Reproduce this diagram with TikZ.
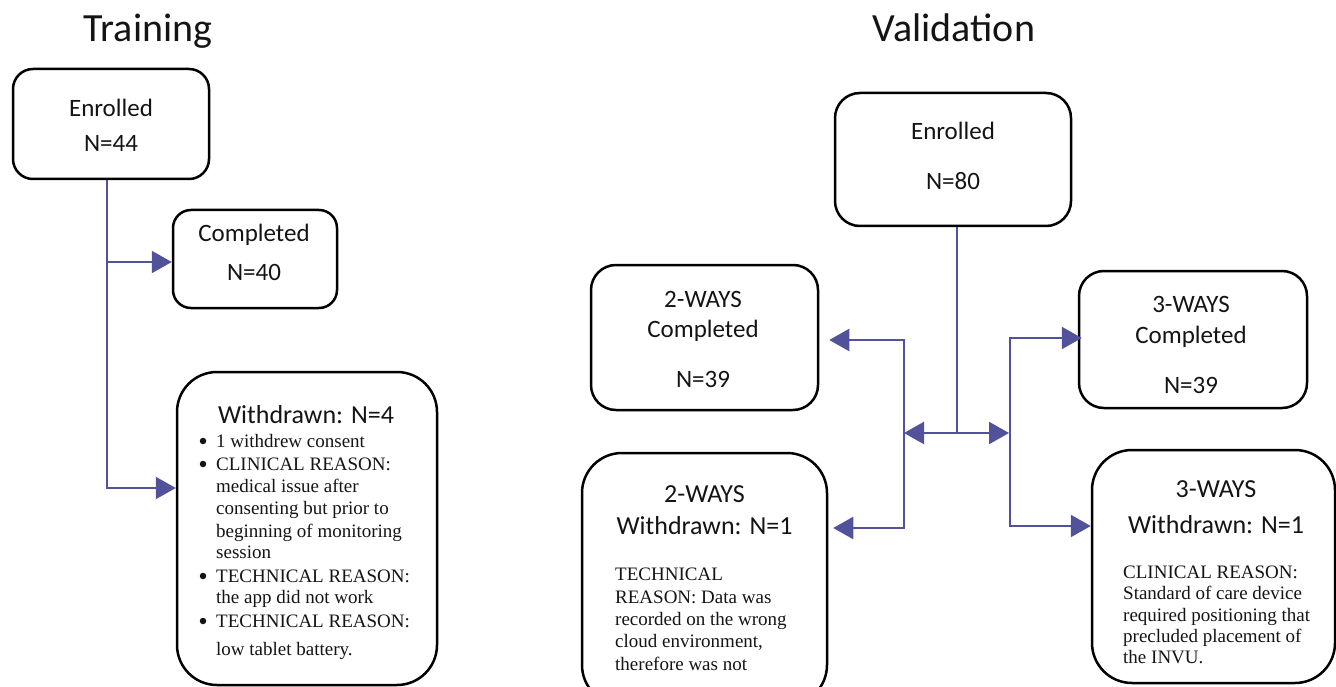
\documentclass[tikz,border=0pt]{standalone}
\usepackage{fontspec}
\setmainfont{Liberation Serif}
\newfontfamily\calib{Carlito}
\usetikzlibrary{arrows.meta}
\definecolor{flowc}{RGB}{82,82,155}
\definecolor{ink}{RGB}{20,20,20}
\begin{document}
\begin{tikzpicture}[x=1pt,y=-1pt,
  box/.style={draw=black, line width=2.5pt, inner sep=0pt},
  hd/.style={font=\calib\fontsize{25}{30}\selectfont, text=ink, anchor=base, inner sep=0pt},
  hdw/.style={font=\calib\fontsize{26}{31}\selectfont, text=ink, anchor=base, inner sep=0pt},
  ttl/.style={font=\calib\fontsize{40}{48}\selectfont, text=ink, anchor=base, inner sep=0pt},
  body/.style={font=\fontsize{19}{22.5}\selectfont, text=ink, anchor=base west, inner sep=0pt},
  bul/.style={circle, fill=ink, inner sep=0pt, minimum size=6.5pt},
  flow/.style={draw=flowc, line width=2.3pt, line join=miter},
  tip/.tip={Triangle[length=20pt,width=22pt]},
  arr/.style={flow, -tip}
]
\useasboundingbox (0,0) rectangle (1336,687);
\begin{scope}
\clip (0,0) rectangle (1336,687);

% titles
\node[ttl] (ttrain) at (148,42) {Training};
\node[ttl] (tval) at (954,42) {Validation};

% ---------- Training ----------
\node[box, rounded corners=20pt, minimum width=196pt, minimum height=110pt] (en1) at (111,124) {};
\node[hd] (en1a) at (111,117) {Enrolled};
\node[hd] (en1b) at (111,152) {N=44};

\node[box, rounded corners=18pt, minimum width=164pt, minimum height=98pt] (co1) at (255,259) {};
\node[hd] (co1a) at (254,242) {Completed};
\node[hd] (co1b) at (254,280) {N=40};

\node[box, rounded corners=40pt, minimum width=260pt, minimum height=313pt] (wd1) at (307,528.5) {};
\node[hdw] (wd1a) at (306,423) {Withdrawn: N=4};
\node[bul] (k1) at (203,441) {};
\node[bul] (k2) at (203,464) {};
\node[bul] (k3) at (203,576) {};
\node[bul] (k4) at (203,621) {};
\node[body] (l1) at (216,447) {1 withdrew consent};
\node[body] (l2) at (216,470) {CLINICAL REASON:};
\node[body] (l3) at (216,492) {medical issue after};
\node[body] (l4) at (216,514) {consenting but prior to};
\node[body] (l5) at (216,537) {beginning of monitoring};
\node[body] (l6) at (216,558) {session};
\node[body] (l7) at (216,582) {TECHNICAL REASON:};
\node[body] (l8) at (216,603) {the app did not work};
\node[body] (l9) at (216,627) {TECHNICAL REASON:};
\node[body] (l10) at (216,655) {low tablet battery.};

\coordinate (t1) at (107,262);
\coordinate (t2) at (107,488);
\draw[arr] (en1.south -| t1) -- (t2) -- (wd1.west |- t2);
\draw[arr] (t1) -- (co1.west |- t1);

% ---------- Validation ----------
\node[box, rounded corners=25pt, minimum width=236pt, minimum height=133pt] (en2) at (953,159.5) {};
\node[hd] (en2a) at (953,140) {Enrolled};
\node[hd] (en2b) at (953,190) {N=80};

\node[box, rounded corners=25pt, minimum width=227pt, minimum height=145pt] (c2) at (704.5,337.5) {};
\node[hd] (c2a) at (703,307) {2-WAYS};
\node[hd] (c2b) at (703,337) {Completed};
\node[hd] (c2c) at (703,387) {N=39};

\node[box, rounded corners=40pt, minimum width=245pt, minimum height=252pt] (w2) at (704.5,579) {};
\node[hdw] (w2a) at (704.5,502) {2-WAYS};
\node[hdw] (w2b) at (704.5,534) {Withdrawn: N=1};
\node[body] (m1) at (615,580) {TECHNICAL};
\node[body] (m2) at (615,603) {REASON: Data was};
\node[body] (m3) at (615,625) {recorded on the wrong};
\node[body] (m4) at (615,647) {cloud environment,};
\node[body] (m5) at (615,670) {therefore was not};

\node[box, rounded corners=25pt, minimum width=228pt, minimum height=137pt] (c3) at (1193,339.5) {};
\node[hd] (c3a) at (1191,312) {3-WAYS};
\node[hd] (c3b) at (1191,343) {Completed};
\node[hd] (c3c) at (1191,393) {N=39};

\node[box, rounded corners=40pt, minimum width=243pt, minimum height=233pt] (w3) at (1213.5,566.5) {};
\node[hdw] (w3a) at (1216,497) {3-WAYS};
\node[hdw] (w3b) at (1216,533) {Withdrawn: N=1};
\node[body] (r1) at (1123,578) {CLINICAL REASON:};
\node[body] (r2) at (1123,599.5) {Standard of care device};
\node[body] (r3) at (1123,621) {required positioning that};
\node[body] (r4) at (1123,642) {precluded placement of};
\node[body] (r5) at (1123,663) {the INVU.};

\coordinate (vj) at (957,433);
\coordinate (vl) at (904,433);
\coordinate (vr) at (1009,433);
\draw[flow] (en2.south -| vj) -- (vj);
\draw[arr] (vj) -- (vl);
\draw[arr] (vj) -- (vr);

\coordinate (vl1) at (904,340);
\coordinate (vl2) at (904,528);
\coordinate (vr1) at (1010,338);
\coordinate (vr2) at (1010,526);
\draw[flow, tip-tip] ([xshift=10pt]c2.east |- vl1) -- (vl1) -- (vl2) -- ([xshift=5pt]w2.east |- vl2);
\draw[flow, tip-tip] ([xshift=4pt]c3.west |- vr1) -- (vr1) -- (vr2) -- (w3.west |- vr2);
\end{scope}
\end{tikzpicture}
\end{document}
